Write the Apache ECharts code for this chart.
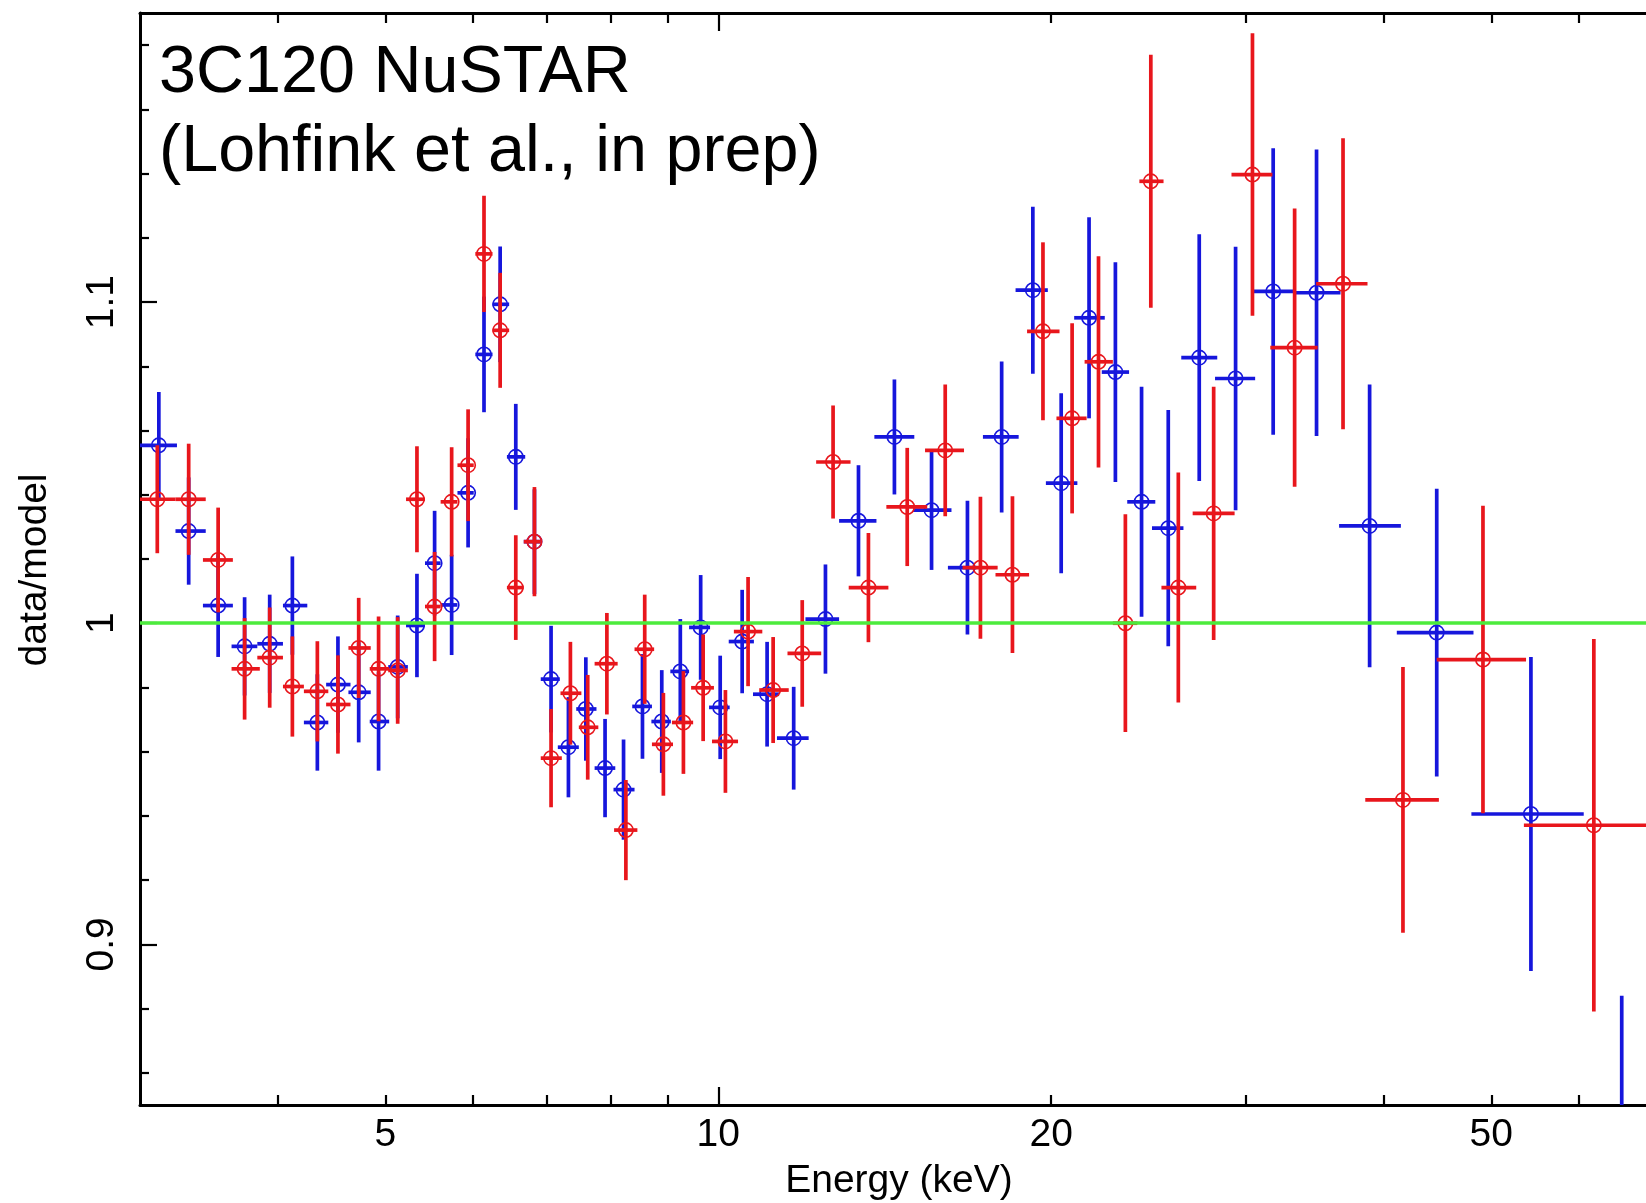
<!DOCTYPE html>
<html>
<head>
<meta charset="utf-8">
<script src="https://cdn.jsdelivr.net/npm/echarts@6/dist/echarts.min.js"></script>
<style>
  html, body { margin: 0; padding: 0; background: #fff; }
  #ratio-chart { width: 1646px; height: 1203px; }
</style>
</head>
<body>
<div id="ratio-chart"></div>
<script>
// FPMA (blue) : bin centre, bin edges (keV), data/model, 1-sigma error
const blueEnergy = [3.12, 3.32, 3.53, 3.73, 3.93, 4.12, 4.34, 4.53, 4.73, 4.93, 5.13, 5.34, 5.54, 5.74, 5.94, 6.14, 6.35, 6.56, 6.82, 7.06, 7.32, 7.59, 7.90, 8.21, 8.54, 8.89, 9.24, 9.64, 10.04, 10.51, 11.07, 11.70, 12.50, 13.39, 14.43, 15.59, 16.80, 18.04, 19.25, 20.42, 21.64, 22.86, 24.14, 25.52, 27.22, 29.36, 31.75, 34.75, 38.81, 44.63, 54.3, 65.6];
const blueLo = [3.0, 3.23, 3.42, 3.63, 3.83, 4.04, 4.22, 4.42, 4.63, 4.84, 5.03, 5.22, 5.43, 5.61, 5.81, 6.03, 6.25, 6.44, 6.67, 6.91, 7.16, 7.44, 7.73, 8.04, 8.36, 8.70, 9.05, 9.41, 9.81, 10.22, 10.75, 11.30, 11.99, 12.86, 13.84, 15.00, 16.13, 17.35, 18.57, 19.78, 20.98, 22.22, 23.43, 24.67, 26.22, 28.13, 30.49, 33.12, 36.42, 41.07, 47.97, 60.6];
const blueHi = [3.24, 3.44, 3.64, 3.83, 4.04, 4.25, 4.44, 4.65, 4.85, 5.04, 5.24, 5.43, 5.61, 5.81, 6.01, 6.25, 6.47, 6.69, 6.91, 7.19, 7.48, 7.76, 8.07, 8.40, 8.71, 9.06, 9.41, 9.83, 10.24, 10.77, 11.35, 12.07, 12.86, 13.90, 15.04, 16.25, 17.11, 18.69, 19.86, 21.12, 22.36, 23.52, 24.84, 26.34, 28.26, 30.58, 33.12, 36.53, 41.42, 48.18, 60.61, 72];
const blueRatio = [1.0554, 1.0287, 1.0055, 0.9928, 0.9936, 1.0055, 0.9691, 0.9809, 0.9785, 0.9694, 0.9864, 0.9993, 1.0187, 1.0057, 1.0406, 1.0837, 1.0993, 1.0518, 1.0254, 0.9826, 0.9614, 0.9733, 0.9549, 0.9482, 0.9741, 0.9694, 0.9850, 0.9987, 0.9738, 0.9943, 0.9779, 0.9642, 1.0013, 1.0319, 1.0580, 1.0352, 1.0173, 1.0580, 1.1037, 1.0436, 1.0951, 1.0782, 1.0378, 1.0296, 1.0827, 1.0762, 1.1033, 1.1029, 1.0303, 0.9971, 0.9406, 0.834];
const blueErr = [0.0166, 0.0167, 0.016, 0.0153, 0.0153, 0.0153, 0.015, 0.015, 0.0156, 0.0153, 0.016, 0.0161, 0.0163, 0.0156, 0.017, 0.018, 0.018, 0.0165, 0.0163, 0.0166, 0.0156, 0.0161, 0.0153, 0.0156, 0.0163, 0.016, 0.0163, 0.0163, 0.0161, 0.0161, 0.0163, 0.016, 0.017, 0.0173, 0.0179, 0.0186, 0.0208, 0.0235, 0.026, 0.028, 0.0313, 0.0342, 0.0358, 0.0368, 0.0384, 0.041, 0.0446, 0.0446, 0.044, 0.0448, 0.0489, 0.05];

// FPMB (red)
const redEnergy = [3.11, 3.32, 3.53, 3.73, 3.93, 4.12, 4.34, 4.53, 4.73, 4.93, 5.13, 5.34, 5.54, 5.74, 5.94, 6.14, 6.35, 6.56, 6.82, 7.06, 7.35, 7.62, 7.93, 8.25, 8.58, 8.92, 9.30, 9.69, 10.15, 10.64, 11.21, 11.91, 12.70, 13.67, 14.82, 16.04, 17.26, 18.45, 19.66, 20.89, 22.07, 23.34, 24.61, 26.06, 28.05, 30.41, 33.2, 36.72, 41.6, 49.14, 61.9];
const redLo = [3.0, 3.23, 3.42, 3.63, 3.83, 4.04, 4.22, 4.42, 4.63, 4.84, 5.03, 5.22, 5.43, 5.61, 5.81, 6.03, 6.25, 6.44, 6.67, 6.91, 7.20, 7.48, 7.73, 8.05, 8.40, 8.71, 9.08, 9.45, 9.87, 10.33, 10.89, 11.55, 12.26, 13.12, 14.19, 15.38, 16.63, 17.81, 19.02, 20.22, 21.44, 22.74, 24.03, 25.16, 26.85, 29.11, 31.56, 34.72, 38.46, 44.63, 53.51];
const redHi = [3.23, 3.44, 3.64, 3.85, 4.04, 4.22, 4.44, 4.65, 4.85, 5.04, 5.24, 5.43, 5.61, 5.81, 6.01, 6.25, 6.47, 6.67, 6.91, 7.22, 7.52, 7.79, 8.11, 8.45, 8.75, 9.10, 9.49, 9.91, 10.42, 10.96, 11.58, 12.39, 13.17, 14.25, 15.45, 16.68, 17.89, 19.10, 20.35, 21.53, 22.74, 23.93, 25.27, 27.05, 29.30, 31.70, 34.83, 38.64, 44.83, 53.75, 75];
const redRatio = [1.0386, 1.0386, 1.0197, 0.9858, 0.9893, 0.9803, 0.9788, 0.9747, 0.9923, 0.9858, 0.9853, 1.0386, 1.0052, 1.0378, 1.0492, 1.115, 1.0912, 1.0111, 1.0254, 0.958, 0.9782, 0.9676, 0.9874, 0.9356, 0.9919, 0.9623, 0.9691, 0.9799, 0.9632, 0.9974, 0.9792, 0.9906, 1.0502, 1.0111, 1.0362, 1.0538, 1.0173, 1.0151, 1.0909, 1.0638, 1.0814, 1.0, 1.1376, 1.0111, 1.0342, 1.1397, 1.0858, 1.1057, 0.945, 0.9887, 0.9371];
const redErr = [0.0168, 0.0173, 0.0163, 0.0158, 0.0156, 0.0156, 0.0156, 0.0153, 0.0156, 0.0163, 0.0166, 0.0165, 0.017, 0.017, 0.0174, 0.0181, 0.0179, 0.0163, 0.017, 0.0153, 0.016, 0.0163, 0.0158, 0.0156, 0.017, 0.016, 0.016, 0.0166, 0.016, 0.017, 0.0165, 0.0166, 0.0176, 0.017, 0.0184, 0.0205, 0.0221, 0.0244, 0.0277, 0.0296, 0.0329, 0.0339, 0.0394, 0.0358, 0.0394, 0.044, 0.0433, 0.0453, 0.0414, 0.0479, 0.058];

// axes
const modelLevel = 1;
const xMajorTicks = [10];
const xMinorTicks = [4, 5, 6, 7, 8, 9, 20, 30, 40, 50, 60];
const xTickLabels = [5, 10, 20, 50];
const yMajorTicks = [0.9, 1.0, 1.1];
const yMinorTicks = [0.86, 0.88, 0.92, 0.94, 0.96, 0.98, 1.02, 1.04, 1.06, 1.08, 1.12, 1.14, 1.16, 1.18];

const FONT = "'Liberation Sans', Arial, Helvetica, sans-serif";
const RED = '#e8161c';
const BLUE = '#1616dc';
const GREEN = '#4ceb3c';

function buildData(en, lo, hi, ratio, err) {
  return en.map((e, i) => [e, ratio[i], err[i], lo[i], hi[i]]);
}

function errorBars(color) {
  return function (params, api) {
    const x = api.value(0), y = api.value(1), e = api.value(2);
    const c = api.coord([x, y]);
    const top = api.coord([x, y + e]);
    const bot = api.coord([x, y - e]);
    const left = api.coord([api.value(3), y]);
    const right = api.coord([api.value(4), y]);
    const bar = { stroke: color, lineWidth: 3.7 };
    return {
      type: 'group',
      children: [
        { type: 'line', shape: { x1: top[0], y1: top[1], x2: bot[0], y2: bot[1] }, style: bar },
        { type: 'line', shape: { x1: left[0], y1: left[1], x2: right[0], y2: right[1] }, style: bar },
        { type: 'circle', shape: { cx: c[0], cy: c[1], r: 7.2 }, style: { stroke: color, fill: null, lineWidth: 1.6 } }
      ]
    };
  };
}

function xAxisDef(position, ticks, len, withLine, labels) {
  return {
    type: 'log', logBase: 10, min: 3, max: 69, position: position, gridIndex: 0,
    axisLine: { show: withLine, onZero: false, lineStyle: { color: '#000', width: 3 } },
    axisTick: { show: true, inside: true, length: len, customValues: ticks, lineStyle: { color: '#000', width: 2.2 } },
    axisLabel: labels ? { show: true, customValues: labels, margin: 11, fontSize: 39, color: '#000', fontFamily: FONT } : { show: false },
    splitLine: { show: false }, minorTick: { show: false }
  };
}

function yAxisDef(ticks, len, withLine, labels) {
  return {
    type: 'value', min: 0.85, max: 1.19, position: 'left', gridIndex: 0,
    axisLine: { show: withLine, onZero: false, lineStyle: { color: '#000', width: 3 } },
    axisTick: { show: true, inside: true, length: len, customValues: ticks, lineStyle: { color: '#000', width: 2.2 } },
    axisLabel: labels ? { show: true, customValues: labels, rotate: 90, margin: 18, fontSize: 39, color: '#000', fontFamily: FONT, formatter: v => String(Math.round(v * 10) / 10) } : { show: false },
    splitLine: { show: false }
  };
}

const chart = echarts.init(document.getElementById('ratio-chart'));
const xBottom = xAxisDef('bottom', xMajorTicks, 18, true, xTickLabels);
xBottom.name = 'Energy (keV)';
xBottom.nameLocation = 'middle';
xBottom.nameGap = 57;
xBottom.nameTextStyle = { fontSize: 39, color: '#000', fontFamily: FONT, padding: [0, 0, 0, 12] };
const yLeft = yAxisDef(yMajorTicks, 17, true, yMajorTicks);
yLeft.name = 'data/model';
yLeft.nameLocation = 'middle';
yLeft.nameGap = 85;
yLeft.nameTextStyle = { fontSize: 39, color: '#000', fontFamily: FONT, padding: [0, 22, 0, 0] };

chart.setOption({
  animation: false,
  backgroundColor: '#fff',
  title: {
    text: '3C120 NuSTAR\n(Lohfink et al., in prep)',
    left: 154, top: 29,
    textStyle: { fontSize: 66.5, lineHeight: 79, fontWeight: 'normal', color: '#000', fontFamily: FONT }
  },
  grid: { left: 140, top: 13, right: 0, bottom: 98, containLabel: false, outerBoundsMode: 'none' },
  xAxis: [
    xBottom,
    xAxisDef('bottom', xMinorTicks, 10, false, null),
    xAxisDef('top', xMajorTicks, 18, true, null),
    xAxisDef('top', xMinorTicks, 10, false, null)
  ],
  yAxis: [
    yLeft,
    yAxisDef(yMinorTicks, 9, false, null)
  ],
  series: [
    {
      name: 'FPMA', type: 'custom', xAxisIndex: 0, yAxisIndex: 0, clip: true,
      renderItem: errorBars(BLUE),
      encode: { x: 0, y: 1 },
      data: buildData(blueEnergy, blueLo, blueHi, blueRatio, blueErr)
    },
    {
      name: 'FPMB', type: 'custom', xAxisIndex: 0, yAxisIndex: 0, clip: true,
      renderItem: errorBars(RED),
      encode: { x: 0, y: 1 },
      data: buildData(redEnergy, redLo, redHi, redRatio, redErr),
      markLine: {
        silent: true, symbol: ['none', 'none'], label: { show: false },
        lineStyle: { color: GREEN, width: 3.5, type: 'solid' },
        data: [{ yAxis: modelLevel }]
      }
    }
  ]
});
</script>
</body>
</html>
